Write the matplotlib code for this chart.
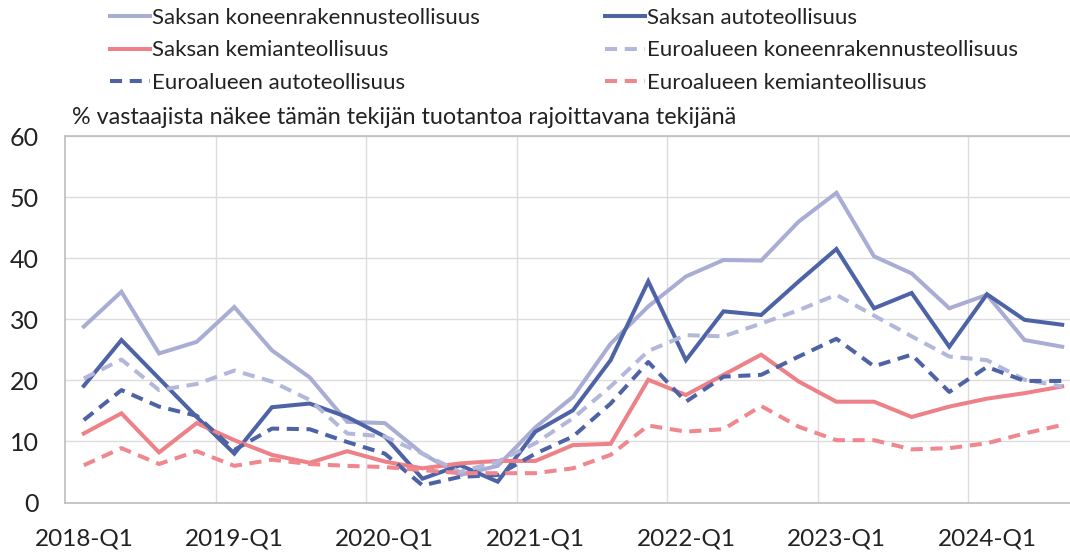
import matplotlib
matplotlib.use("Agg")
import matplotlib.pyplot as plt
from matplotlib.lines import Line2D

# ---- data ----
quarters = [f"{y}-Q{q}" for y in range(2018, 2025) for q in range(1, 5)][:27]
tick_labels = ["2018-Q1", "2019-Q1", "2020-Q1", "2021-Q1", "2022-Q1", "2023-Q1", "2024-Q1"]

de_machinery = [28.8, 34.5, 24.4, 26.3, 32.0, 24.9, 20.5, 13.2, 13.0, 8.0, 4.5, 6.0, 12.3, 17.3,
                26.0, 32.1, 37.0, 39.7, 39.6, 46.0, 50.7, 40.3, 37.5, 31.8, 34.0, 26.6, 25.5]
de_auto = [19.1, 26.6, 20.3, 14.0, 8.0, 15.6, 16.2, 14.0, 10.8, 3.9, 6.1, 3.4, 11.6, 15.1,
           23.3, 36.2, 23.3, 31.3, 30.7, 36.2, 41.5, 31.8, 34.3, 25.5, 34.1, 29.9, 29.1]
de_chem = [11.3, 14.6, 8.2, 13.0, 10.2, 7.8, 6.5, 8.4, 6.7, 5.6, 6.4, 6.8, 6.8, 9.4,
           9.6, 20.1, 17.6, 20.9, 24.2, 19.8, 16.5, 16.5, 14.0, 15.7, 17.0, 17.9, 19.0]
ea_machinery = [20.3, 23.4, 18.4, 19.4, 21.6, 19.8, 16.8, 11.3, 10.8, 8.0, 5.0, 6.7, 9.7, 13.8,
                19.0, 24.8, 27.4, 27.2, 29.3, 31.5, 34.0, 30.6, 27.2, 23.9, 23.3, 20.1, 19.0]
ea_auto = [13.5, 18.4, 15.7, 14.2, 8.6, 12.1, 12.0, 9.9, 8.0, 2.8, 4.2, 4.5, 8.0, 10.8,
           16.2, 23.0, 16.5, 20.6, 20.9, 23.9, 26.8, 22.3, 24.2, 18.1, 22.2, 19.9, 19.9]
ea_chem = [6.1, 8.9, 6.3, 8.4, 6.0, 7.0, 6.3, 6.0, 5.8, 5.3, 4.8, 4.8, 4.8, 5.6,
           7.8, 12.6, 11.6, 12.0, 15.8, 12.4, 10.2, 10.2, 8.7, 8.9, 9.7, 11.3, 12.7]

names = ["Saksan koneenrakennusteollisuus", "Saksan autoteollisuus", "Saksan kemianteollisuus",
         "Euroalueen koneenrakennusteollisuus", "Euroalueen autoteollisuus", "Euroalueen kemianteollisuus"]
subtitle = "% vastaajista näkee tämän tekijän tuotantoa rajoittavana tekijänä"

# ---- style ----
FONT = ["Lato", "DejaVu Sans"]
plt.rcParams['font.family'] = FONT
c_light = "#A9ADD4"
c_light_d = "#B3B7DA"
c_dark = "#4D63A6"
c_red = "#EE8088"
c_red_d = "#F0878E"
lw = 2.9
dash = (3.0, 1.9)
txt = "#222222"

fig = plt.figure(figsize=(10.70, 5.53), dpi=100)
ax = fig.add_axes([65 / 1070, (553 - 502.5) / 553, (1081 - 65) / 1070, (502.5 - 136) / 553])

x = list(range(len(quarters)))
series = [
    (de_machinery, c_light, "-"),
    (de_auto, c_dark, "-"),
    (de_chem, c_red, "-"),
    (ea_machinery, c_light_d, "--"),
    (ea_auto, c_dark, "--"),
    (ea_chem, c_red_d, "--"),
]
for (vals, col, ls), nm in zip(series, names):
    ln, = ax.plot(x, vals, color=col, lw=lw, linestyle=ls, solid_joinstyle="miter", label=nm)
    if ls == "--":
        ln.set_dashes(dash)

ax.set_xlim(-0.5, len(quarters) - 0.5)
ax.set_ylim(0, 60)
ax.set_yticks(range(0, 61, 10))
ax.set_xticks([quarters.index(t) for t in tick_labels])
ax.set_xticklabels(tick_labels)
ax.set_xticks([quarters.index(t) - 0.5 for t in tick_labels[1:]], minor=True)
ax.tick_params(axis="both", which="both", length=0, colors=txt)
ax.tick_params(axis="x", pad=19, labelsize=17.5)
ax.tick_params(axis="y", pad=19, labelsize=18)
ax.grid(axis="y", which="major", color="#DCDCDC", lw=1.0)
ax.grid(axis="x", which="minor", color="#DCDCDC", lw=1.0)
ax.set_axisbelow(True)
for s in ["left", "top", "bottom"]:
    ax.spines[s].set_color("#BDBDBD")
    ax.spines[s].set_linewidth(1.2)
ax.spines["right"].set_visible(False)

fig.text(72 / 1070, 1 - 118 / 553, subtitle, fontsize=16.8, color=txt, va="center", ha="left")

# legend: two columns, Excel row-major order
def make_handle(i):
    vals, col, ls = series[i]
    h = Line2D([], [], color=col, lw=lw, linestyle=ls)
    if ls == "--":
        h.set_dashes(dash)
    return h

for idxs, x0 in (([0, 2, 4], 108), ([1, 3, 5], 603)):
    fig.legend([make_handle(i) for i in idxs], [names[i] for i in idxs], ncol=1, frameon=False,
               loc="upper left", bbox_to_anchor=(x0 / 1070, 1 - 6 / 553), borderaxespad=0,
               borderpad=0.1, fontsize=16, handlelength=1.8, handletextpad=0.1,
               labelspacing=0.55, labelcolor=txt)

fig.savefig("out.png", dpi=100)
